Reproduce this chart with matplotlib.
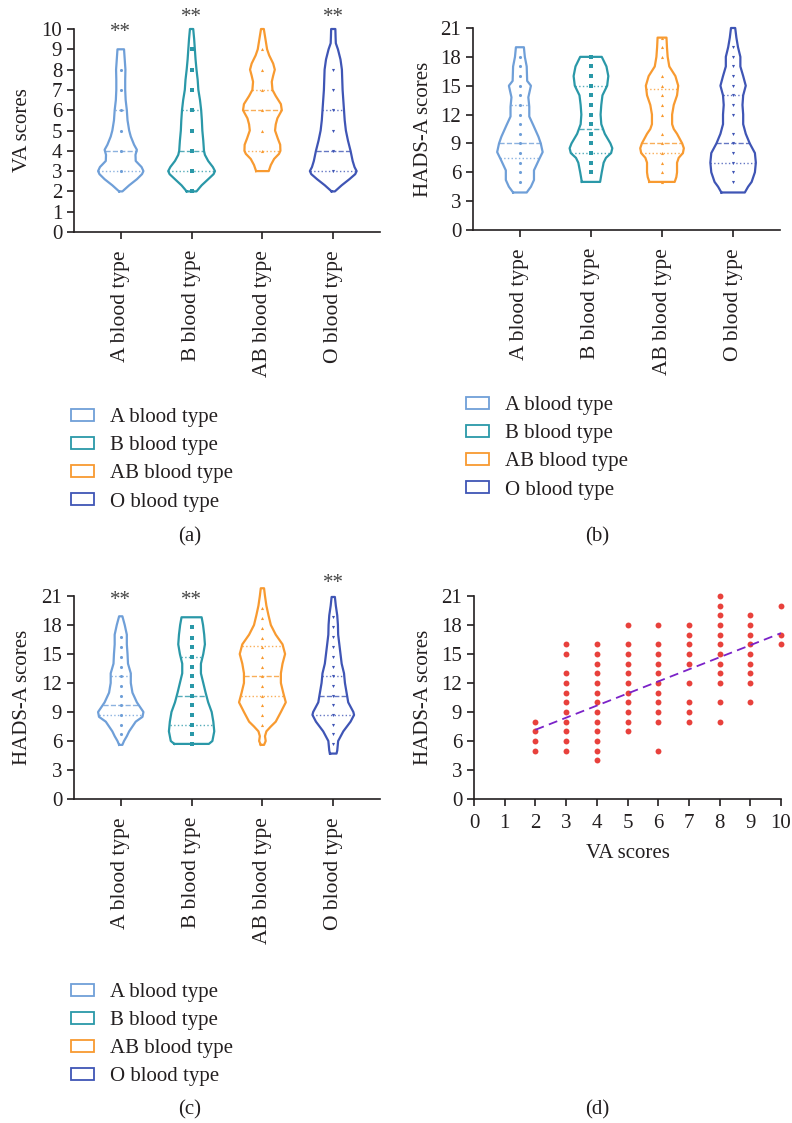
import numpy as np
import matplotlib
matplotlib.use('Agg')
import matplotlib.pyplot as plt
from matplotlib.patches import Patch

plt.rcParams['font.family'] = ['Liberation Serif', 'DejaVu Serif']

groups = ['A blood type', 'B blood type', 'AB blood type', 'O blood type']
colors = ['#6f9fd8', '#2a98a8', '#f89a30', '#3f55b5']
markers = ['o', 's', '^', 'v']

# (a) VA scores - violin outline: level, relative width
va_y_A = [2.0, 2.3, 2.6, 2.85, 3.0, 3.2, 3.5, 3.8, 4.05, 4.3, 4.7, 5.0, 5.5, 6.0, 6.5, 7.0, 7.5, 8.0, 8.5, 9.0]
va_w_A = [0.07, 0.36, 0.69, 0.91, 0.97, 0.89, 0.64, 0.63, 0.69, 0.57, 0.43, 0.36, 0.29, 0.26, 0.21, 0.19, 0.19, 0.2, 0.17, 0.14]
va_y_B = [2.0, 2.3, 2.6, 2.85, 3.0, 3.2, 3.5, 3.8, 4.0, 4.5, 5.0, 5.5, 6.0, 6.5, 7.0, 7.5, 8.0, 8.5, 9.0, 9.5, 10.0]
va_w_B = [0.21, 0.43, 0.71, 0.94, 1.0, 0.91, 0.71, 0.57, 0.53, 0.5, 0.46, 0.44, 0.41, 0.36, 0.29, 0.26, 0.21, 0.17, 0.14, 0.11, 0.07]
va_y_AB = [3.0, 3.3, 3.6, 3.85, 4.0, 4.3, 4.6, 5.0, 5.3, 5.6, 6.0, 6.3, 6.7, 7.0, 7.4, 7.7, 8.0, 8.3, 8.7, 9.0, 9.5, 10.0]
va_w_AB = [0.27, 0.36, 0.5, 0.71, 0.77, 0.76, 0.66, 0.54, 0.57, 0.64, 0.83, 0.79, 0.57, 0.43, 0.4, 0.46, 0.53, 0.46, 0.29, 0.2, 0.13, 0.06]
va_y_O = [2.0, 2.3, 2.6, 2.85, 3.0, 3.2, 3.5, 4.0, 4.5, 5.0, 5.5, 6.0, 7.0, 8.0, 8.5, 9.0, 9.3, 9.6, 10.0]
va_w_O = [0.07, 0.36, 0.69, 0.94, 1.0, 0.91, 0.83, 0.74, 0.63, 0.54, 0.49, 0.46, 0.4, 0.37, 0.31, 0.2, 0.11, 0.1, 0.09]
va_pts = [[3, 4, 5, 6, 7, 8], [2, 3, 4, 5, 6, 7, 8, 9], [4, 5, 6, 7, 8, 9], [3, 4, 5, 6, 7, 8]]
va_med = [4, 4, 6, 4]
va_q1 = [3, 3, 4, 3]
va_q3 = [6, 6, 7, 6]
va_star = [9.85, 10.55, None, 10.55]

# (b) HADS-A scores
hb_y_A = [3.9, 4.5, 5.2, 6.2, 7.3, 8.1, 9.0, 9.7, 10.9, 11.8, 12.8, 13.8, 15.0, 15.5, 17.0, 18.0, 19.0]
hb_w_A = [0.29, 0.47, 0.6, 0.6, 0.81, 0.97, 0.89, 0.79, 0.57, 0.4, 0.4, 0.36, 0.47, 0.31, 0.29, 0.21, 0.17]
hb_y_B = [5, 6, 7, 7.5, 8, 8.5, 9, 10, 11, 12, 13, 14, 15, 16, 17, 18]
hb_w_B = [0.39, 0.46, 0.54, 0.64, 0.86, 0.91, 0.83, 0.59, 0.44, 0.41, 0.44, 0.49, 0.69, 0.74, 0.66, 0.46]
hb_y_AB = [5, 5.5, 6, 7, 7.5, 8, 8.5, 9, 10, 10.5, 11, 12, 13, 14, 15, 16, 17, 18, 19, 20]
hb_w_AB = [0.54, 0.61, 0.64, 0.64, 0.71, 0.89, 0.93, 0.86, 0.64, 0.5, 0.43, 0.43, 0.5, 0.64, 0.69, 0.57, 0.31, 0.24, 0.21, 0.19]
hb_y_O = [3.9, 4.5, 5, 6, 7, 8, 9, 10, 11, 12, 13, 14, 15, 16, 17, 18, 19, 20, 21]
hb_w_O = [0.5, 0.64, 0.79, 0.93, 0.97, 0.93, 0.71, 0.54, 0.43, 0.43, 0.4, 0.43, 0.54, 0.43, 0.31, 0.31, 0.21, 0.14, 0.09]
hb_pts = [list(range(5, 19)), list(range(6, 19)),
          [5, 6, 7, 8, 9, 10, 12, 13, 14, 15, 16, 18, 19, 20],
          [5, 6, 7, 8, 9, 10, 12, 13, 14, 15, 16, 17, 18, 19]]
hb_med = [9, 10.5, 9, 9]
hb_q1 = [7.5, 8, 8, 7]
hb_q3 = [13, 15, 14.7, 14]

# (c) HADS-A scores
hc_y_A = [5.6, 6.0, 6.5, 7.0, 8.0, 8.5, 9.0, 10.0, 11.0, 12.0, 13.0, 14.0, 15.0, 16.0, 17.0, 18.0, 18.9]
hc_w_A = [0.07, 0.14, 0.26, 0.36, 0.64, 0.93, 0.97, 0.69, 0.5, 0.43, 0.43, 0.31, 0.29, 0.26, 0.26, 0.17, 0.07]
hc_y_B = [5.7, 6, 7, 8, 9, 10, 11, 12, 13, 14, 15, 16, 17, 18, 18.8]
hc_w_B = [0.74, 0.89, 0.97, 0.93, 0.86, 0.71, 0.6, 0.5, 0.4, 0.4, 0.5, 0.57, 0.54, 0.49, 0.43]
hc_y_AB = [5.6, 6.0, 6.5, 7.0, 7.5, 8, 9, 10, 11, 12, 13, 14, 15, 16, 17, 18, 19, 20, 21, 21.8]
hc_w_AB = [0.07, 0.14, 0.11, 0.17, 0.36, 0.57, 0.79, 1.0, 0.89, 0.79, 0.79, 0.86, 0.97, 0.86, 0.57, 0.36, 0.26, 0.17, 0.11, 0.07]
hc_y_O = [4.7, 5, 6, 7, 8, 8.7, 9, 10, 11, 12, 13, 14, 15, 16, 17, 18, 19, 20, 20.9]
hc_w_O = [0.14, 0.17, 0.21, 0.43, 0.74, 0.89, 0.86, 0.64, 0.57, 0.5, 0.46, 0.36, 0.31, 0.26, 0.21, 0.2, 0.17, 0.11, 0.07]
hc_pts = [[6.7, 7.7, 8.7, 9.7, 10.7, 11.7, 12.7, 13.7, 14.7, 15.7, 16.8],
          [5.7, 6.7, 7.7, 8.7, 9.7, 10.7, 11.7, 12.7, 13.7, 14.7, 15.7, 16.7, 17.8],
          [7.7, 8.7, 9.7, 10.7, 11.7, 12.7, 13.7, 14.7, 15.7, 16.7, 17.7, 18.7, 19.8],
          [5.7, 6.7, 7.7, 8.7, 9.7, 10.7, 11.7, 12.7, 13.7, 14.7, 15.7, 16.8, 17.8, 18.8]]
hc_med = [9.7, 10.7, 12.7, 10.7]
hc_q1 = [8.7, 7.7, 10.7, 8.7]
hc_q3 = [12.7, 14.7, 15.8, 12.7]
hc_star = [20.5, 20.5, None, 22.3]

# (d) VA scores vs HADS-A scores
sc_va = [2] * 4 + [3] * 11 + [4] * 13 + [5] * 11 + [6] * 11 + [7] * 9 + [8] * 12 + [9] * 9 + [10] * 3
sc_hads = [5, 6, 7, 8,
           5, 6, 7, 8, 9, 10, 11, 12, 13, 15, 16,
           4, 5, 6, 7, 8, 9, 10, 11, 12, 13, 14, 15, 16,
           7, 8, 9, 10, 11, 12, 13, 14, 15, 16, 18,
           5, 8, 9, 10, 11, 12, 13, 14, 15, 16, 18,
           8, 9, 10, 12, 14, 15, 16, 17, 18,
           8, 10, 12, 13, 14, 15, 16, 17, 18, 19, 20, 21,
           10, 12, 13, 14, 15, 16, 17, 18, 19,
           16, 17, 20]
fit_slope = 1.25
fit_intercept = 4.66

W = 0.33  # max half width in category units
TXT = '#231f20'


def violins(ax, ys, ws, pts, med, q1, q3):
    for i in range(4):
        y = np.array(ys[i])
        w = np.array(ws[i]) * W
        c = colors[i]
        xs = np.concatenate([i - w, (i + w)[::-1], [i - w[0]]])
        yy = np.concatenate([y, y[::-1], [y[0]]])
        ax.plot(xs, yy, color=c, lw=1.6, solid_joinstyle='round', clip_on=False, zorder=3)
        for q, ls in [(q1[i], ':'), (med[i], '--'), (q3[i], ':')]:
            hw = np.interp(q, y, w)
            ax.plot([i - hw, i + hw], [q, q], color=c, ls=ls, lw=1.0, alpha=0.8, zorder=2)
        ax.scatter([i] * len(pts[i]), pts[i], marker=markers[i], s=5, color=c, zorder=4, linewidths=0)


def style(ax, ymax, ystep):
    for s in ['top', 'right']:
        ax.spines[s].set_visible(False)
    for s in ['left', 'bottom']:
        ax.spines[s].set_linewidth(1.2)
        ax.spines[s].set_color(TXT)
    ax.set_ylim(0, ymax)
    ax.set_yticks(np.arange(0, ymax + 0.1, ystep))
    ax.tick_params(axis='both', labelsize=15, length=5, width=1.2, color=TXT, labelcolor=TXT)


def cat_axis(ax):
    ax.set_xlim(-0.66, 3.66)
    ax.set_xticks(range(4))
    ax.set_xticklabels(groups, rotation=90, fontsize=15.5)
    ax.tick_params(axis='x', pad=8)


def legend(fig, x, y):
    handles = [Patch(facecolor='white', edgecolor=c, lw=1.3) for c in colors]
    fig.legend(handles, groups, loc='upper left', bbox_to_anchor=(x, y), frameon=False,
               fontsize=15, handlelength=1.1, handleheight=0.5, labelspacing=0.44,
               handletextpad=0.75, borderaxespad=0, borderpad=0, labelcolor=TXT)


fig = plt.figure(figsize=(7.92, 11.23), dpi=100)

ax_a = fig.add_axes([74 / 792, 1 - 232 / 1123, 306 / 792, 203 / 1123])
ax_b = fig.add_axes([473 / 792, 1 - 230 / 1123, 307 / 792, 202 / 1123])
ax_c = fig.add_axes([74 / 792, 1 - 799 / 1123, 306 / 792, 203 / 1123])
ax_d = fig.add_axes([474 / 792, 1 - 799 / 1123, 307 / 792, 203 / 1123])

violins(ax_a, [va_y_A, va_y_B, va_y_AB, va_y_O], [va_w_A, va_w_B, va_w_AB, va_w_O], va_pts, va_med, va_q1, va_q3)
style(ax_a, 10, 1)
cat_axis(ax_a)
ax_a.set_ylabel('VA scores', fontsize=15, color=TXT)
ax_a.yaxis.set_label_coords(-0.137, 0.5)
for i, s in enumerate(va_star):
    if s is not None:
        ax_a.text(i, s, '**', ha='center', va='center', fontsize=15, color='#444444', clip_on=False)

violins(ax_b, [hb_y_A, hb_y_B, hb_y_AB, hb_y_O], [hb_w_A, hb_w_B, hb_w_AB, hb_w_O], hb_pts, hb_med, hb_q1, hb_q3)
style(ax_b, 21, 3)
cat_axis(ax_b)
ax_b.set_ylabel('HADS-A scores', fontsize=15, color=TXT)
ax_b.yaxis.set_label_coords(-0.13, 0.5)

violins(ax_c, [hc_y_A, hc_y_B, hc_y_AB, hc_y_O], [hc_w_A, hc_w_B, hc_w_AB, hc_w_O], hc_pts, hc_med, hc_q1, hc_q3)
style(ax_c, 21, 3)
cat_axis(ax_c)
ax_c.set_ylabel('HADS-A scores', fontsize=15, color=TXT)
ax_c.yaxis.set_label_coords(-0.137, 0.5)
for i, s in enumerate(hc_star):
    if s is not None:
        ax_c.text(i, s, '**', ha='center', va='center', fontsize=15, color='#444444', clip_on=False)

ax_d.scatter(sc_va, sc_hads, s=18, color='#e8413c', linewidths=0, clip_on=False, zorder=3)
fx = np.array([2, 10])
ax_d.plot(fx, fit_slope * fx + fit_intercept, ls=(0, (5, 3)), color='#7b22c8', lw=1.3, zorder=4)
style(ax_d, 21, 3)
ax_d.set_xlim(0, 10)
ax_d.set_xticks(range(11))
ax_d.tick_params(axis='x', pad=6)
ax_d.set_xlabel('VA scores', fontsize=15, color=TXT, labelpad=8)
ax_d.set_ylabel('HADS-A scores', fontsize=15, color=TXT)
ax_d.yaxis.set_label_coords(-0.134, 0.5)

legend(fig, 71 / 792, 1 - 408 / 1123)
legend(fig, 466 / 792, 1 - 396 / 1123)
legend(fig, 71 / 792, 1 - 983 / 1123)

for lab, x, y in [('(a)', 190, 537), ('(b)', 597, 537), ('(c)', 190, 1110), ('(d)', 597, 1110)]:
    fig.text(x / 792, 1 - y / 1123, lab, ha='center', va='center', fontsize=15, color=TXT)

fig.savefig('out.png', dpi=100)
